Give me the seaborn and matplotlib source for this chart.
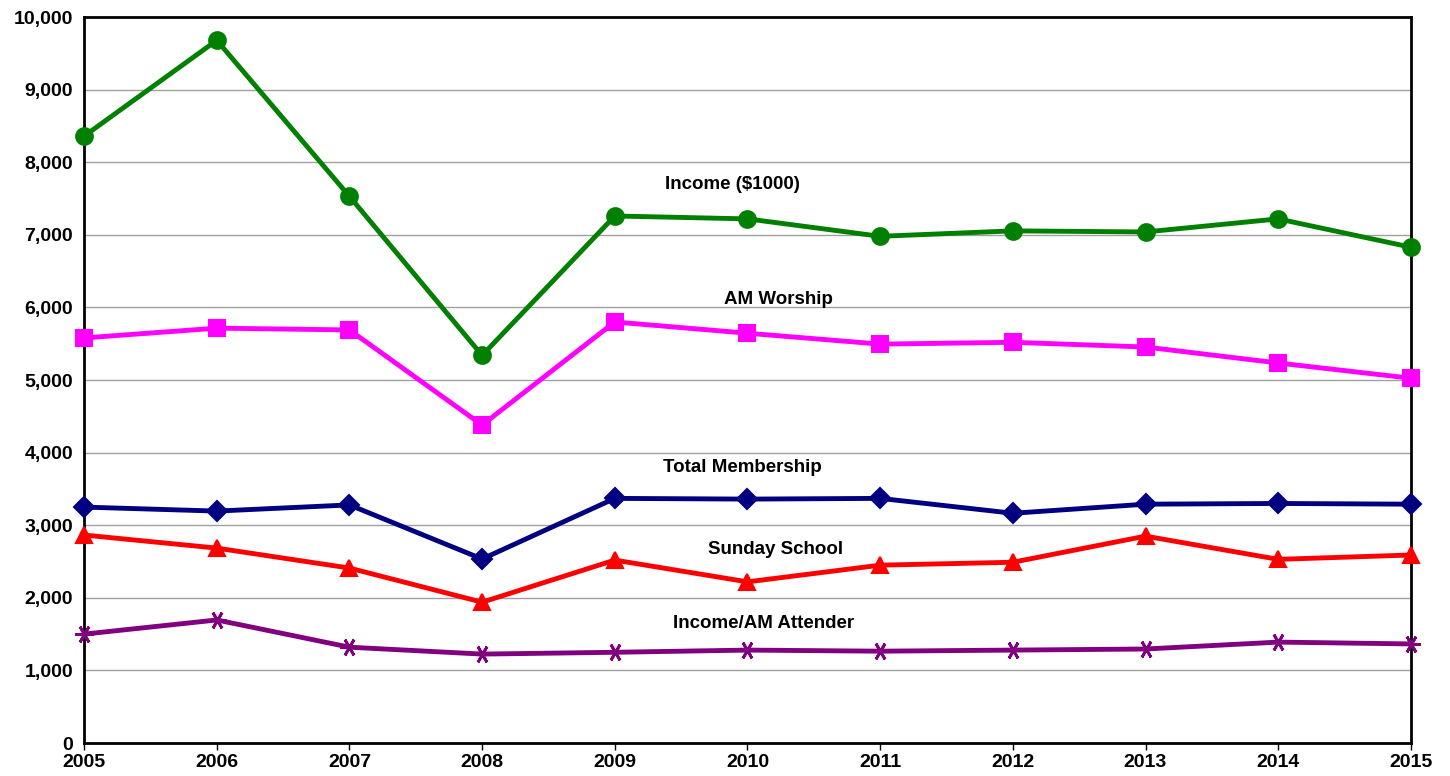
import pandas as pd
import matplotlib.pyplot as plt
import seaborn as sns

years = list(range(2005, 2016))
income = [8360, 9680, 7530, 5340, 7260, 7220, 6980, 7055, 7040, 7220, 6830]
am_worship = [5580, 5715, 5690, 4380, 5800, 5645, 5495, 5520, 5455, 5235, 5025]
membership = [3250, 3195, 3280, 2535, 3370, 3360, 3370, 3165, 3290, 3300, 3290]
sunday_school = [2865, 2685, 2410, 1940, 2520, 2220, 2450, 2490, 2850, 2530, 2590]
income_per_attender = [1500, 1695, 1320, 1225, 1250, 1280, 1265, 1280, 1295, 1390, 1365]

series = [
    ("Income ($1000)", income, "green", "o", 12, 1.5),
    ("AM Worship", am_worship, "#FF00FF", "s", 12, 1.5),
    ("Total Membership", membership, "#000080", "D", 10, 1.5),
    ("Sunday School", sunday_school, "red", "^", 12, 1.5),
    ("Income/AM Attender", income_per_attender, "purple", (6, 2, 30), 13, 2),
]
# label positions (year, value)
label_pos = {
    "Income ($1000)": (2009.89, 7690),
    "AM Worship": (2010.23, 6115),
    "Total Membership": (2009.96, 3800),
    "Sunday School": (2010.21, 2670),
    "Income/AM Attender": (2010.12, 1640),
}

sns.set_style("white")
plt.rcParams['font.family'] = ['Liberation Sans', 'DejaVu Sans']

fig = plt.figure(figsize=(14.5, 7.76), dpi=100)
ax = fig.add_axes([0.058, 0.0425, 0.915, 0.9355])

for name, vals, color, marker, ms, mew in series:
    df = pd.DataFrame({"year": years, "value": vals})
    sns.lineplot(data=df, x="year", y="value", ax=ax, color=color, linewidth=3.5,
                 marker=marker, markersize=ms, markeredgecolor=color,
                 markeredgewidth=mew, zorder=3, clip_on=False)
    lx, ly = label_pos[name]
    ax.text(lx, ly, name, ha="center", va="center", fontsize=13.5,
            fontweight="bold", color="black")

ax.set_xlim(2005, 2015)
ax.set_ylim(0, 10000)
ax.set_xticks(years)
ax.set_yticks(range(0, 10001, 1000))
ax.set_yticklabels([f"{v:,}" for v in range(0, 10001, 1000)])
ax.grid(axis="y", color="#A0A0A0", linewidth=1)
ax.set_axisbelow(True)
ax.set_xlabel("")
ax.set_ylabel("")
for s in ax.spines.values():
    s.set_color("black")
    s.set_linewidth(2)
ax.tick_params(axis="x", length=5, width=1, direction="out", bottom=True,
               labelsize=14, pad=3, colors="black")
ax.tick_params(axis="y", length=0, labelsize=14, pad=8, colors="black")
for lab in ax.get_xticklabels() + ax.get_yticklabels():
    lab.set_fontweight("bold")

fig.savefig("out.png", dpi=100)
